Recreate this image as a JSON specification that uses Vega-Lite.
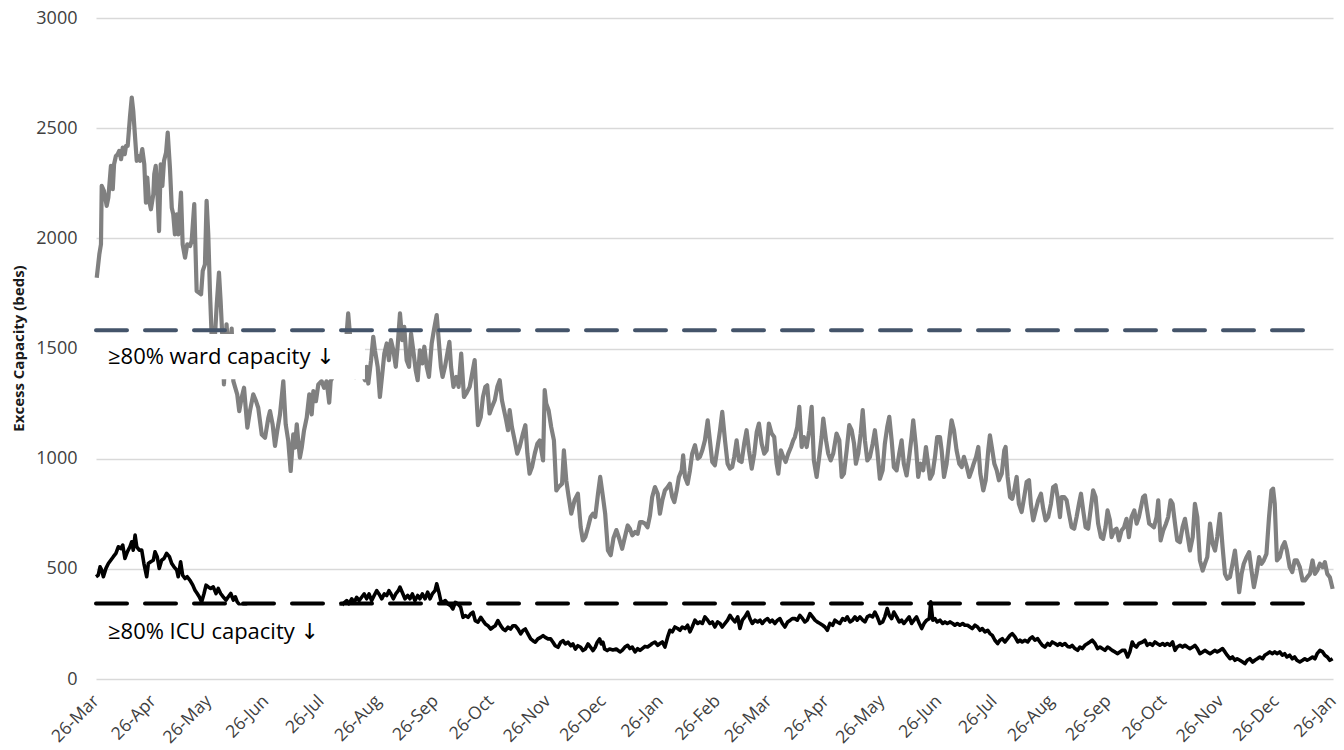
{
  "$schema": "https://vega.github.io/schema/vega-lite/v6.json",
  "width": 1237,
  "height": 661,
  "autosize": "none",
  "padding": {"left": 96, "top": 18, "right": 11, "bottom": 71},
  "background": "white",
  "config": {"view": {"stroke": null}, "font": "Open Sans"},
  "datasets": {
    "ward": [
      {"d":0.4,"v":1821},{"d":1.8,"v":1927},{"d":2.7,"v":1973},{"d":3.1,"v":2238},{"d":4.3,"v":2215},{"d":5.8,"v":2147},{"d":6.7,"v":2185},{"d":8.1,"v":2329},{"d":9.1,"v":2223},{"d":9.8,"v":2336},{"d":10.8,"v":2374},{"d":11.8,"v":2382},{"d":12.6,"v":2397},{"d":13.6,"v":2359},{"d":14.5,"v":2412},{"d":15.6,"v":2382},{"d":16.3,"v":2420},{"d":17.2,"v":2420},{"d":18.4,"v":2549},{"d":19.4,"v":2639},{"d":20.2,"v":2579},{"d":21.2,"v":2458},{"d":22.1,"v":2352},{"d":22.9,"v":2374},{"d":23.9,"v":2352},{"d":25.1,"v":2405},{"d":26.2,"v":2336},{"d":27.1,"v":2162},{"d":27.8,"v":2276},{"d":28.7,"v":2177},{"d":29.8,"v":2132},{"d":31.1,"v":2200},{"d":31.6,"v":2291},{"d":32.4,"v":2329},{"d":33.2,"v":2230},{"d":34.2,"v":2033},{"d":35.1,"v":2336},{"d":36.0,"v":2238},{"d":36.9,"v":2352},{"d":38.0,"v":2389},{"d":38.9,"v":2480},{"d":40.1,"v":2321},{"d":41.1,"v":2139},{"d":41.9,"v":2109},{"d":42.8,"v":2018},{"d":43.8,"v":2109},{"d":44.6,"v":2018},{"d":46.1,"v":2208},{"d":47.0,"v":1973},{"d":48.3,"v":1912},{"d":49.5,"v":1973},{"d":51.0,"v":1965},{"d":51.9,"v":1988},{"d":53.3,"v":2155},{"d":54.6,"v":1761},{"d":55.9,"v":1753},{"d":57.0,"v":1746},{"d":57.9,"v":1852},{"d":59.1,"v":1882},{"d":60.0,"v":2170},{"d":60.9,"v":2018},{"d":61.8,"v":1761},{"d":62.9,"v":1520},{"d":64.0,"v":1480},{"d":65.5,"v":1700},{"d":66.7,"v":1844},{"d":67.6,"v":1715},{"d":68.6,"v":1540},{"d":69.4,"v":1337},{"d":70.8,"v":1610},{"d":72.1,"v":1450},{"d":73.6,"v":1590},{"d":74.5,"v":1352},{"d":76.6,"v":1292},{"d":77.7,"v":1216},{"d":79.0,"v":1277},{"d":80.3,"v":1322},{"d":82.1,"v":1141},{"d":83.5,"v":1216},{"d":85.3,"v":1292},{"d":86.8,"v":1261},{"d":88.0,"v":1231},{"d":89.9,"v":1110},{"d":91.7,"v":1095},{"d":93.5,"v":1186},{"d":94.4,"v":1216},{"d":95.8,"v":1156},{"d":97.1,"v":1058},{"d":98.3,"v":1126},{"d":99.8,"v":1201},{"d":101.6,"v":1352},{"d":102.9,"v":1156},{"d":104.3,"v":1080},{"d":105.6,"v":944},{"d":107.0,"v":1110},{"d":107.9,"v":1050},{"d":108.9,"v":1156},{"d":109.7,"v":1080},{"d":110.6,"v":1005},{"d":111.6,"v":1050},{"d":112.8,"v":1126},{"d":114.3,"v":1186},{"d":115.7,"v":1292},{"d":117.0,"v":1201},{"d":117.9,"v":1307},{"d":119.3,"v":1261},{"d":120.6,"v":1337},{"d":122.4,"v":1352},{"d":123.7,"v":1322},{"d":125.1,"v":1352},{"d":126.5,"v":1254},{"d":127.3,"v":1352},{"d":128.4,"v":1370},{"d":130.2,"v":1450},{"d":131.8,"v":1400},{"d":133.4,"v":1480},{"d":135.1,"v":1420},{"d":135.9,"v":1560},{"d":136.8,"v":1659},{"d":138.0,"v":1540},{"d":139.4,"v":1420},{"d":140.5,"v":1370},{"d":142.1,"v":1450},{"d":143.7,"v":1400},{"d":145.9,"v":1356},{"d":146.8,"v":1417},{"d":147.7,"v":1341},{"d":149.2,"v":1447},{"d":150.4,"v":1553},{"d":151.3,"v":1492},{"d":152.8,"v":1417},{"d":154.0,"v":1280},{"d":155.3,"v":1386},{"d":156.4,"v":1477},{"d":157.7,"v":1523},{"d":158.9,"v":1447},{"d":160.0,"v":1538},{"d":161.3,"v":1492},{"d":162.6,"v":1417},{"d":163.6,"v":1508},{"d":164.9,"v":1659},{"d":166.1,"v":1538},{"d":167.2,"v":1598},{"d":168.5,"v":1447},{"d":169.8,"v":1417},{"d":170.9,"v":1568},{"d":172.1,"v":1492},{"d":173.4,"v":1402},{"d":174.5,"v":1356},{"d":175.7,"v":1492},{"d":177.0,"v":1432},{"d":178.1,"v":1508},{"d":179.4,"v":1417},{"d":180.6,"v":1371},{"d":182.1,"v":1523},{"d":183.3,"v":1583},{"d":184.8,"v":1652},{"d":186.2,"v":1508},{"d":187.1,"v":1417},{"d":188.0,"v":1371},{"d":189.3,"v":1417},{"d":191.7,"v":1530},{"d":192.6,"v":1417},{"d":193.9,"v":1326},{"d":195.4,"v":1371},{"d":196.7,"v":1326},{"d":198.1,"v":1477},{"d":199.6,"v":1280},{"d":200.8,"v":1295},{"d":202.7,"v":1326},{"d":205.4,"v":1447},{"d":206.3,"v":1295},{"d":207.2,"v":1152},{"d":208.7,"v":1189},{"d":209.9,"v":1280},{"d":211.2,"v":1326},{"d":212.2,"v":1333},{"d":213.5,"v":1205},{"d":214.8,"v":1235},{"d":216.3,"v":1265},{"d":217.7,"v":1326},{"d":219.0,"v":1356},{"d":220.2,"v":1265},{"d":222.5,"v":1174},{"d":223.5,"v":1129},{"d":224.4,"v":1220},{"d":225.6,"v":1144},{"d":227.1,"v":1083},{"d":228.5,"v":1023},{"d":229.8,"v":1053},{"d":231.6,"v":1114},{"d":232.9,"v":1152},{"d":234.0,"v":1023},{"d":235.2,"v":932},{"d":236.5,"v":962},{"d":238.0,"v":1023},{"d":239.4,"v":1068},{"d":240.7,"v":1083},{"d":242.5,"v":992},{"d":243.4,"v":1311},{"d":244.2,"v":1250},{"d":245.5,"v":1220},{"d":246.9,"v":1144},{"d":248.4,"v":1083},{"d":249.7,"v":856},{"d":251.0,"v":871},{"d":252.8,"v":886},{"d":253.8,"v":1038},{"d":255.1,"v":901},{"d":256.4,"v":826},{"d":257.8,"v":750},{"d":259.6,"v":811},{"d":261.4,"v":841},{"d":262.9,"v":689},{"d":264.1,"v":629},{"d":265.4,"v":644},{"d":266.9,"v":689},{"d":268.3,"v":735},{"d":269.6,"v":750},{"d":270.8,"v":735},{"d":272.3,"v":841},{"d":273.5,"v":917},{"d":275.0,"v":826},{"d":276.2,"v":750},{"d":277.7,"v":583},{"d":279.2,"v":562},{"d":280.7,"v":640},{"d":282.3,"v":676},{"d":283.7,"v":640},{"d":285.4,"v":591},{"d":286.9,"v":644},{"d":288.4,"v":697},{"d":289.6,"v":682},{"d":290.9,"v":652},{"d":292.4,"v":667},{"d":293.8,"v":659},{"d":295.1,"v":712},{"d":296.3,"v":712},{"d":297.8,"v":705},{"d":299.2,"v":689},{"d":300.5,"v":742},{"d":301.7,"v":826},{"d":303.2,"v":871},{"d":304.7,"v":841},{"d":305.9,"v":750},{"d":307.2,"v":811},{"d":308.6,"v":856},{"d":310.1,"v":871},{"d":311.3,"v":886},{"d":312.6,"v":826},{"d":313.7,"v":803},{"d":315.0,"v":856},{"d":316.2,"v":917},{"d":317.7,"v":947},{"d":318.5,"v":1015},{"d":319.5,"v":917},{"d":320.9,"v":886},{"d":322.2,"v":947},{"d":323.4,"v":1023},{"d":324.9,"v":1061},{"d":326.4,"v":1000},{"d":327.6,"v":1008},{"d":328.9,"v":1038},{"d":330.3,"v":1083},{"d":331.8,"v":1174},{"d":333.0,"v":1083},{"d":334.3,"v":985},{"d":335.7,"v":970},{"d":337.2,"v":1053},{"d":338.5,"v":1129},{"d":339.7,"v":1212},{"d":341.2,"v":1083},{"d":342.6,"v":977},{"d":343.9,"v":955},{"d":345.1,"v":962},{"d":346.2,"v":1008},{"d":347.5,"v":1083},{"d":348.8,"v":992},{"d":350.2,"v":985},{"d":351.6,"v":1068},{"d":352.9,"v":1129},{"d":354.2,"v":1038},{"d":355.7,"v":955},{"d":357.1,"v":1023},{"d":358.4,"v":1121},{"d":359.6,"v":1159},{"d":361.1,"v":1068},{"d":362.5,"v":1023},{"d":363.8,"v":1038},{"d":365.0,"v":1159},{"d":366.5,"v":1114},{"d":367.9,"v":1098},{"d":369.2,"v":977},{"d":370.1,"v":932},{"d":371.5,"v":1038},{"d":372.8,"v":1008},{"d":374.1,"v":985},{"d":375.5,"v":1023},{"d":377.0,"v":1053},{"d":378.2,"v":1083},{"d":379.1,"v":1098},{"d":380.4,"v":1144},{"d":381.5,"v":1235},{"d":382.8,"v":1053},{"d":384.0,"v":1098},{"d":385.5,"v":1053},{"d":386.9,"v":1129},{"d":388.2,"v":1235},{"d":389.4,"v":992},{"d":390.9,"v":917},{"d":392.3,"v":1008},{"d":393.6,"v":1098},{"d":394.5,"v":1182},{"d":396.0,"v":1083},{"d":397.2,"v":1023},{"d":398.5,"v":992},{"d":399.9,"v":1023},{"d":401.7,"v":1114},{"d":403.2,"v":1083},{"d":404.5,"v":917},{"d":405.7,"v":932},{"d":407.2,"v":1038},{"d":408.6,"v":1152},{"d":409.9,"v":1129},{"d":411.2,"v":1068},{"d":412.2,"v":977},{"d":413.5,"v":1023},{"d":414.8,"v":1114},{"d":415.9,"v":1220},{"d":417.1,"v":1083},{"d":418.4,"v":992},{"d":419.8,"v":1008},{"d":421.3,"v":1068},{"d":422.5,"v":1129},{"d":423.8,"v":1038},{"d":425.2,"v":909},{"d":426.7,"v":947},{"d":427.9,"v":1068},{"d":429.2,"v":1144},{"d":430.3,"v":1190},{"d":431.6,"v":1083},{"d":432.8,"v":962},{"d":434.3,"v":947},{"d":435.7,"v":1023},{"d":437.0,"v":1083},{"d":438.2,"v":977},{"d":439.7,"v":924},{"d":441.1,"v":1008},{"d":442.4,"v":1098},{"d":443.3,"v":1174},{"d":444.8,"v":1053},{"d":446.0,"v":917},{"d":447.3,"v":977},{"d":448.7,"v":947},{"d":450.2,"v":1053},{"d":450.9,"v":1008},{"d":452.4,"v":909},{"d":453.8,"v":932},{"d":455.1,"v":1008},{"d":456.3,"v":1098},{"d":457.8,"v":1098},{"d":458.7,"v":1038},{"d":460.0,"v":917},{"d":461.4,"v":977},{"d":462.8,"v":1083},{"d":464.1,"v":1174},{"d":465.4,"v":1129},{"d":466.8,"v":1038},{"d":468.3,"v":977},{"d":469.6,"v":962},{"d":470.8,"v":1008},{"d":472.4,"v":962},{"d":473.7,"v":917},{"d":475.0,"v":947},{"d":476.1,"v":977},{"d":477.4,"v":1008},{"d":478.6,"v":1053},{"d":479.7,"v":932},{"d":481.3,"v":856},{"d":482.6,"v":902},{"d":484.0,"v":1038},{"d":484.9,"v":1106},{"d":486.2,"v":1038},{"d":487.3,"v":977},{"d":488.6,"v":947},{"d":489.8,"v":902},{"d":491.3,"v":932},{"d":492.7,"v":1038},{"d":493.4,"v":1053},{"d":494.5,"v":917},{"d":495.8,"v":826},{"d":497.0,"v":818},{"d":498.1,"v":856},{"d":499.4,"v":917},{"d":500.6,"v":795},{"d":502.1,"v":758},{"d":503.5,"v":826},{"d":504.8,"v":894},{"d":506.1,"v":902},{"d":507.1,"v":795},{"d":508.4,"v":720},{"d":509.7,"v":765},{"d":511.1,"v":811},{"d":512.6,"v":841},{"d":513.8,"v":773},{"d":515.1,"v":720},{"d":516.5,"v":735},{"d":518.0,"v":795},{"d":519.2,"v":871},{"d":520.5,"v":879},{"d":521.6,"v":826},{"d":522.9,"v":735},{"d":523.8,"v":826},{"d":525.2,"v":826},{"d":526.5,"v":811},{"d":527.8,"v":750},{"d":529.2,"v":689},{"d":530.6,"v":682},{"d":531.9,"v":735},{"d":533.2,"v":795},{"d":534.3,"v":841},{"d":535.5,"v":765},{"d":536.8,"v":689},{"d":538.2,"v":682},{"d":539.7,"v":780},{"d":540.9,"v":856},{"d":542.2,"v":826},{"d":543.6,"v":705},{"d":545.1,"v":644},{"d":546.3,"v":636},{"d":547.6,"v":689},{"d":548.7,"v":765},{"d":550.0,"v":720},{"d":550.9,"v":644},{"d":552.3,"v":674},{"d":553.6,"v":682},{"d":554.9,"v":629},{"d":556.3,"v":674},{"d":557.7,"v":689},{"d":559.0,"v":727},{"d":560.3,"v":644},{"d":561.7,"v":735},{"d":563.2,"v":765},{"d":564.5,"v":705},{"d":565.7,"v":735},{"d":567.2,"v":795},{"d":568.0,"v":826},{"d":569.0,"v":833},{"d":569.9,"v":780},{"d":571.3,"v":705},{"d":572.6,"v":697},{"d":573.9,"v":689},{"d":575.3,"v":735},{"d":576.2,"v":811},{"d":577.5,"v":629},{"d":578.9,"v":674},{"d":580.4,"v":705},{"d":581.6,"v":735},{"d":582.9,"v":811},{"d":584.0,"v":795},{"d":585.3,"v":705},{"d":586.5,"v":629},{"d":588.0,"v":621},{"d":589.4,"v":689},{"d":590.7,"v":727},{"d":592.0,"v":659},{"d":593.4,"v":583},{"d":594.9,"v":644},{"d":596.1,"v":795},{"d":597.4,"v":735},{"d":598.8,"v":538},{"d":600.3,"v":492},{"d":601.5,"v":523},{"d":602.8,"v":553},{"d":604.3,"v":705},{"d":605.7,"v":614},{"d":607.0,"v":583},{"d":608.2,"v":644},{"d":609.7,"v":750},{"d":611.1,"v":599},{"d":612.4,"v":477},{"d":613.6,"v":455},{"d":615.1,"v":462},{"d":616.5,"v":523},{"d":617.8,"v":583},{"d":619.0,"v":492},{"d":620.1,"v":394},{"d":621.4,"v":477},{"d":622.6,"v":523},{"d":624.1,"v":553},{"d":625.5,"v":576},{"d":626.8,"v":492},{"d":628.1,"v":417},{"d":629.5,"v":477},{"d":630.9,"v":553},{"d":632.2,"v":523},{"d":633.4,"v":538},{"d":634.9,"v":568},{"d":636.3,"v":735},{"d":637.6,"v":856},{"d":638.5,"v":864},{"d":639.4,"v":795},{"d":640.6,"v":538},{"d":642.1,"v":553},{"d":643.5,"v":599},{"d":644.8,"v":621},{"d":646.0,"v":583},{"d":647.5,"v":508},{"d":648.9,"v":485},{"d":650.2,"v":538},{"d":651.4,"v":538},{"d":653.0,"v":508},{"d":654.5,"v":447},{"d":655.7,"v":447},{"d":657.0,"v":462},{"d":658.5,"v":477},{"d":659.9,"v":538},{"d":661.2,"v":477},{"d":662.4,"v":492},{"d":663.9,"v":523},{"d":665.4,"v":508},{"d":666.6,"v":530},{"d":667.9,"v":477},{"d":669.3,"v":462},{"d":670.8,"v":409}
    ],
    "icu": [
      {"d":0,"v":464},{"d":1.2,"v":471},{"d":2.2,"v":509},{"d":3.1,"v":494},{"d":4.0,"v":464},{"d":5.4,"v":502},{"d":6.7,"v":524},{"d":8.0,"v":539},{"d":9.4,"v":555},{"d":10.8,"v":570},{"d":12.1,"v":600},{"d":13.4,"v":592},{"d":14.5,"v":608},{"d":15.7,"v":547},{"d":17.0,"v":577},{"d":18.4,"v":600},{"d":19.4,"v":623},{"d":20.2,"v":585},{"d":21.2,"v":653},{"d":22.1,"v":600},{"d":23.5,"v":585},{"d":24.8,"v":585},{"d":26.0,"v":524},{"d":27.5,"v":464},{"d":28.4,"v":524},{"d":29.7,"v":532},{"d":31.1,"v":539},{"d":32.0,"v":577},{"d":33.2,"v":555},{"d":34.3,"v":502},{"d":35.6,"v":539},{"d":36.9,"v":547},{"d":38.3,"v":570},{"d":39.8,"v":555},{"d":41.1,"v":524},{"d":42.3,"v":509},{"d":43.8,"v":494},{"d":44.6,"v":464},{"d":45.9,"v":532},{"d":47.0,"v":471},{"d":48.3,"v":456},{"d":49.5,"v":464},{"d":51.0,"v":448},{"d":52.5,"v":426},{"d":53.7,"v":403},{"d":54.9,"v":388},{"d":56.0,"v":373},{"d":57.3,"v":350},{"d":58.6,"v":388},{"d":59.7,"v":426},{"d":60.9,"v":418},{"d":62.2,"v":411},{"d":63.6,"v":418},{"d":65.1,"v":388},{"d":66.3,"v":411},{"d":67.6,"v":388},{"d":69.0,"v":373},{"d":70.5,"v":358},{"d":71.8,"v":373},{"d":73.1,"v":388},{"d":74.5,"v":358},{"d":75.6,"v":373},{"d":76.6,"v":350},{"d":78.1,"v":335},{"d":79.6,"v":335},{"d":81.4,"v":327},{"d":84.6,"v":310},{"d":89.0,"v":300},{"d":94.4,"v":295},{"d":99.8,"v":290},{"d":105.2,"v":295},{"d":110.6,"v":300},{"d":116.1,"v":305},{"d":121.5,"v":308},{"d":126.9,"v":310},{"d":131.3,"v":315},{"d":134.1,"v":342},{"d":136.0,"v":356},{"d":137.2,"v":341},{"d":138.7,"v":364},{"d":140.1,"v":348},{"d":141.4,"v":371},{"d":142.7,"v":356},{"d":144.1,"v":371},{"d":145.5,"v":386},{"d":146.8,"v":364},{"d":148.1,"v":386},{"d":149.5,"v":356},{"d":150.9,"v":379},{"d":152.3,"v":401},{"d":153.5,"v":386},{"d":155.0,"v":364},{"d":156.4,"v":386},{"d":157.7,"v":379},{"d":158.9,"v":401},{"d":160.0,"v":386},{"d":161.3,"v":364},{"d":162.6,"v":386},{"d":164.0,"v":401},{"d":164.9,"v":417},{"d":166.1,"v":394},{"d":167.6,"v":364},{"d":169.1,"v":379},{"d":170.3,"v":364},{"d":171.6,"v":386},{"d":173.0,"v":356},{"d":174.5,"v":379},{"d":175.7,"v":364},{"d":177.0,"v":386},{"d":178.5,"v":364},{"d":179.9,"v":394},{"d":181.2,"v":364},{"d":182.4,"v":386},{"d":183.9,"v":401},{"d":184.8,"v":432},{"d":186.0,"v":394},{"d":187.0,"v":356},{"d":188.2,"v":348},{"d":189.5,"v":356},{"d":190.9,"v":341},{"d":192.4,"v":333},{"d":193.6,"v":318},{"d":194.9,"v":348},{"d":196.3,"v":341},{"d":197.8,"v":326},{"d":199.1,"v":280},{"d":200.3,"v":288},{"d":201.8,"v":280},{"d":203.2,"v":295},{"d":204.5,"v":303},{"d":205.7,"v":265},{"d":207.2,"v":258},{"d":208.7,"v":280},{"d":209.9,"v":265},{"d":211.2,"v":250},{"d":212.6,"v":242},{"d":214.1,"v":227},{"d":215.3,"v":235},{"d":216.6,"v":242},{"d":218.0,"v":265},{"d":219.5,"v":242},{"d":220.8,"v":227},{"d":222.0,"v":220},{"d":223.5,"v":235},{"d":224.9,"v":227},{"d":226.2,"v":242},{"d":227.4,"v":242},{"d":228.9,"v":227},{"d":230.4,"v":205},{"d":231.6,"v":220},{"d":232.9,"v":227},{"d":234.3,"v":205},{"d":235.8,"v":182},{"d":237.0,"v":174},{"d":238.3,"v":167},{"d":239.7,"v":182},{"d":241.2,"v":189},{"d":242.5,"v":197},{"d":243.7,"v":189},{"d":245.2,"v":182},{"d":246.6,"v":182},{"d":247.9,"v":167},{"d":249.1,"v":151},{"d":250.6,"v":144},{"d":252.1,"v":167},{"d":253.3,"v":174},{"d":254.6,"v":159},{"d":256.0,"v":167},{"d":257.5,"v":151},{"d":258.7,"v":159},{"d":260.0,"v":136},{"d":261.4,"v":151},{"d":262.9,"v":144},{"d":264.1,"v":129},{"d":265.4,"v":136},{"d":266.9,"v":159},{"d":268.3,"v":144},{"d":269.6,"v":129},{"d":270.8,"v":144},{"d":271.9,"v":167},{"d":273.2,"v":182},{"d":274.1,"v":159},{"d":275.0,"v":167},{"d":275.9,"v":136},{"d":277.3,"v":129},{"d":278.6,"v":136},{"d":280.4,"v":132},{"d":282.2,"v":136},{"d":284.2,"v":123},{"d":285.4,"v":130},{"d":286.9,"v":145},{"d":288.4,"v":153},{"d":289.6,"v":138},{"d":290.9,"v":145},{"d":292.4,"v":123},{"d":293.8,"v":138},{"d":295.1,"v":130},{"d":296.3,"v":138},{"d":297.8,"v":148},{"d":299.2,"v":145},{"d":300.5,"v":153},{"d":301.7,"v":161},{"d":303.2,"v":168},{"d":304.7,"v":153},{"d":305.9,"v":161},{"d":307.2,"v":168},{"d":308.6,"v":145},{"d":310.1,"v":191},{"d":311.3,"v":221},{"d":312.6,"v":214},{"d":314.0,"v":236},{"d":315.5,"v":229},{"d":316.8,"v":221},{"d":318.0,"v":236},{"d":319.5,"v":229},{"d":320.9,"v":244},{"d":322.2,"v":214},{"d":323.4,"v":236},{"d":324.9,"v":267},{"d":326.4,"v":252},{"d":327.6,"v":259},{"d":328.9,"v":252},{"d":330.3,"v":282},{"d":331.8,"v":267},{"d":333.0,"v":252},{"d":334.3,"v":259},{"d":335.7,"v":236},{"d":337.2,"v":259},{"d":338.5,"v":252},{"d":339.7,"v":236},{"d":341.2,"v":252},{"d":342.6,"v":267},{"d":343.9,"v":289},{"d":345.1,"v":274},{"d":346.6,"v":259},{"d":348.1,"v":282},{"d":349.3,"v":229},{"d":350.6,"v":267},{"d":352.0,"v":282},{"d":353.5,"v":304},{"d":354.7,"v":274},{"d":356.0,"v":252},{"d":357.5,"v":267},{"d":358.9,"v":259},{"d":360.2,"v":267},{"d":361.4,"v":252},{"d":362.9,"v":267},{"d":364.3,"v":274},{"d":365.6,"v":259},{"d":366.8,"v":267},{"d":368.3,"v":252},{"d":369.7,"v":267},{"d":371.0,"v":274},{"d":372.3,"v":252},{"d":373.7,"v":236},{"d":375.2,"v":259},{"d":376.6,"v":267},{"d":377.7,"v":274},{"d":379.1,"v":274},{"d":380.4,"v":267},{"d":381.8,"v":289},{"d":383.3,"v":274},{"d":384.5,"v":259},{"d":385.8,"v":267},{"d":387.3,"v":297},{"d":388.7,"v":282},{"d":390.0,"v":267},{"d":391.2,"v":259},{"d":392.7,"v":252},{"d":394.2,"v":244},{"d":395.4,"v":236},{"d":396.7,"v":221},{"d":398.1,"v":252},{"d":399.6,"v":244},{"d":400.8,"v":267},{"d":402.1,"v":259},{"d":403.5,"v":252},{"d":405.0,"v":274},{"d":406.3,"v":267},{"d":407.5,"v":282},{"d":409.0,"v":259},{"d":410.4,"v":267},{"d":411.7,"v":282},{"d":412.9,"v":267},{"d":414.4,"v":282},{"d":415.9,"v":267},{"d":417.1,"v":259},{"d":418.4,"v":282},{"d":419.8,"v":289},{"d":421.3,"v":282},{"d":422.5,"v":304},{"d":423.8,"v":282},{"d":425.2,"v":252},{"d":426.7,"v":259},{"d":427.9,"v":282},{"d":429.2,"v":320},{"d":430.3,"v":289},{"d":431.6,"v":274},{"d":432.8,"v":304},{"d":434.3,"v":282},{"d":435.7,"v":259},{"d":437.0,"v":267},{"d":438.2,"v":252},{"d":439.7,"v":267},{"d":441.1,"v":282},{"d":442.4,"v":252},{"d":443.7,"v":267},{"d":445.1,"v":282},{"d":446.6,"v":252},{"d":447.9,"v":229},{"d":449.2,"v":252},{"d":450.6,"v":267},{"d":452.0,"v":274},{"d":452.8,"v":350},{"d":453.9,"v":267},{"d":455.1,"v":274},{"d":456.3,"v":259},{"d":457.8,"v":267},{"d":459.3,"v":252},{"d":460.5,"v":259},{"d":461.8,"v":252},{"d":463.2,"v":259},{"d":464.7,"v":252},{"d":465.9,"v":244},{"d":467.2,"v":252},{"d":468.6,"v":244},{"d":470.1,"v":252},{"d":471.3,"v":244},{"d":472.8,"v":244},{"d":474.1,"v":236},{"d":475.3,"v":229},{"d":476.8,"v":244},{"d":478.2,"v":236},{"d":479.5,"v":221},{"d":480.8,"v":229},{"d":482.2,"v":214},{"d":483.7,"v":221},{"d":484.9,"v":206},{"d":486.2,"v":198},{"d":487.6,"v":176},{"d":489.1,"v":161},{"d":490.3,"v":176},{"d":491.6,"v":183},{"d":493.0,"v":168},{"d":494.5,"v":183},{"d":495.8,"v":198},{"d":497.0,"v":206},{"d":498.5,"v":191},{"d":500.0,"v":168},{"d":501.2,"v":176},{"d":502.4,"v":168},{"d":503.9,"v":176},{"d":505.4,"v":168},{"d":506.6,"v":183},{"d":507.9,"v":191},{"d":509.3,"v":176},{"d":510.8,"v":183},{"d":512.0,"v":168},{"d":513.3,"v":153},{"d":514.7,"v":145},{"d":516.2,"v":161},{"d":517.4,"v":153},{"d":518.7,"v":168},{"d":520.2,"v":161},{"d":521.6,"v":153},{"d":522.9,"v":161},{"d":524.1,"v":153},{"d":525.6,"v":161},{"d":527.0,"v":148},{"d":528.3,"v":145},{"d":529.5,"v":153},{"d":531.0,"v":138},{"d":532.5,"v":130},{"d":533.7,"v":145},{"d":535.0,"v":138},{"d":536.4,"v":153},{"d":537.9,"v":161},{"d":539.1,"v":168},{"d":540.4,"v":176},{"d":541.9,"v":161},{"d":543.3,"v":138},{"d":544.6,"v":145},{"d":545.8,"v":138},{"d":547.3,"v":130},{"d":548.7,"v":145},{"d":550.0,"v":138},{"d":551.2,"v":130},{"d":552.7,"v":123},{"d":554.2,"v":115},{"d":555.4,"v":123},{"d":556.7,"v":130},{"d":558.1,"v":130},{"d":559.6,"v":100},{"d":560.8,"v":123},{"d":562.1,"v":168},{"d":563.1,"v":153},{"d":564.4,"v":145},{"d":565.7,"v":161},{"d":567.7,"v":168},{"d":569.0,"v":176},{"d":570.2,"v":153},{"d":571.7,"v":161},{"d":573.1,"v":153},{"d":574.4,"v":168},{"d":575.6,"v":161},{"d":577.1,"v":153},{"d":578.6,"v":161},{"d":579.8,"v":153},{"d":581.1,"v":161},{"d":582.5,"v":153},{"d":584.0,"v":168},{"d":585.3,"v":130},{"d":586.5,"v":145},{"d":588.0,"v":153},{"d":589.4,"v":145},{"d":590.7,"v":153},{"d":592.0,"v":145},{"d":593.4,"v":138},{"d":594.9,"v":145},{"d":596.1,"v":153},{"d":597.4,"v":138},{"d":598.8,"v":115},{"d":600.3,"v":123},{"d":601.5,"v":130},{"d":602.8,"v":123},{"d":604.3,"v":115},{"d":605.7,"v":123},{"d":607.0,"v":130},{"d":608.2,"v":123},{"d":609.7,"v":130},{"d":611.1,"v":138},{"d":612.4,"v":123},{"d":613.6,"v":108},{"d":615.1,"v":92},{"d":616.5,"v":100},{"d":617.8,"v":85},{"d":619.0,"v":92},{"d":620.5,"v":85},{"d":622.0,"v":77},{"d":623.2,"v":70},{"d":624.5,"v":85},{"d":625.9,"v":92},{"d":627.4,"v":77},{"d":628.6,"v":85},{"d":629.9,"v":92},{"d":631.3,"v":100},{"d":632.8,"v":92},{"d":634.0,"v":108},{"d":635.3,"v":115},{"d":636.7,"v":123},{"d":638.2,"v":115},{"d":639.4,"v":123},{"d":640.6,"v":115},{"d":642.1,"v":123},{"d":643.5,"v":108},{"d":644.8,"v":115},{"d":646.0,"v":100},{"d":647.5,"v":108},{"d":648.9,"v":92},{"d":650.2,"v":100},{"d":651.4,"v":85},{"d":653.0,"v":77},{"d":654.5,"v":85},{"d":655.7,"v":92},{"d":657.0,"v":85},{"d":658.5,"v":92},{"d":659.9,"v":100},{"d":661.2,"v":92},{"d":662.4,"v":115},{"d":663.9,"v":130},{"d":665.4,"v":123},{"d":666.6,"v":108},{"d":667.9,"v":100},{"d":669.3,"v":85},{"d":670.8,"v":92}
    ],
    "masks": [
      {"d1": 0, "d2": 145.9, "v1": 1360, "v2": 1566},
      {"d1": 0, "d2": 134.0, "v1": 150, "v2": 334}
    ],
    "thresholds": [
      {"name": "ward", "v": 1583, "d1": 0, "d2": 662},
      {"name": "icu", "v": 343, "d1": 0, "d2": 662}
    ],
    "notes": [
      {"t": "≥80% ward capacity ↓", "d": 6.5, "v": 1460},
      {"t": "≥80% ICU capacity ↓", "d": 6.5, "v": 213}
    ]
  },
  "layer": [
    {
      "data": {"name": "ward"},
      "mark": {"type": "line", "color": "#808080", "strokeWidth": 4.2, "strokeJoin": "round"},
      "encoding": {
        "x": {
          "field": "d", "type": "quantitative",
          "scale": {"domain": [0, 671], "nice": false, "zero": false},
          "axis": {
            "title": null, "grid": false, "domain": false, "ticks": false,
            "values": [0,31,61,92,122,153,184,214,245,275,306,337,365,396,426,457,487,518,549,579,610,640,671],
            "labelExpr": "timeFormat(datetime(2020, 2, 26 + datum.value), '%d-%b')",
            "labelAngle": -45, "labelAlign": "right", "labelBaseline": "middle",
            "labelFontSize": 17.5, "labelColor": "#404040", "labelPadding": 19,
            "labelFont": "Open Sans", "labelOverlap": false, "labelBound": false, "labelFlush": false
          }
        },
        "y": {
          "field": "v", "type": "quantitative",
          "scale": {"domain": [0, 3000], "nice": false},
          "axis": {
            "title": "Excess Capacity (beds)",
            "values": [0,500,1000,1500,2000,2500,3000],
            "format": "d",
            "grid": true, "gridColor": "#d9d9d9", "gridWidth": 1.3,
            "domain": false, "ticks": false,
            "labelFontSize": 18, "labelColor": "#404040", "labelPadding": 19, "labelFont": "Open Sans",
            "titleFont": "Open Sans", "titleFontSize": 15, "titleFontWeight": "bold", "titleColor": "#1a1a1a",
            "titleX": -78, "titleY": 330, "titleAngle": 270, "titleAlign": "center", "titleBaseline": "middle"
          }
        }
      }
    },
    {
      "data": {"name": "icu"},
      "mark": {"type": "line", "color": "#000000", "strokeWidth": 3.6, "strokeJoin": "round"},
      "encoding": {
        "x": {"field": "d", "type": "quantitative"},
        "y": {"field": "v", "type": "quantitative"}
      }
    },
    {
      "data": {"name": "masks"},
      "mark": {"type": "rect", "color": "white", "opacity": 1},
      "encoding": {
        "x": {"field": "d1", "type": "quantitative"},
        "x2": {"field": "d2"},
        "y": {"field": "v1", "type": "quantitative"},
        "y2": {"field": "v2"}
      }
    },
    {
      "data": {"name": "thresholds"},
      "mark": {"type": "rule", "strokeWidth": 4, "strokeDash": [31, 18], "strokeCap": "round"},
      "encoding": {
        "x": {"field": "d1", "type": "quantitative"},
        "x2": {"field": "d2"},
        "y": {"field": "v", "type": "quantitative"},
        "color": {"field": "name", "type": "nominal", "scale": {"domain": ["ward", "icu"], "range": ["#44546A", "#000000"]}, "legend": null}
      }
    },
    {
      "data": {"name": "notes"},
      "mark": {"type": "text", "align": "left", "baseline": "middle", "fontSize": 22, "font": "Open Sans, DejaVu Sans", "color": "#000000"},
      "encoding": {
        "x": {"field": "d", "type": "quantitative"},
        "y": {"field": "v", "type": "quantitative"},
        "text": {"field": "t"}
      }
    }
  ]
}
